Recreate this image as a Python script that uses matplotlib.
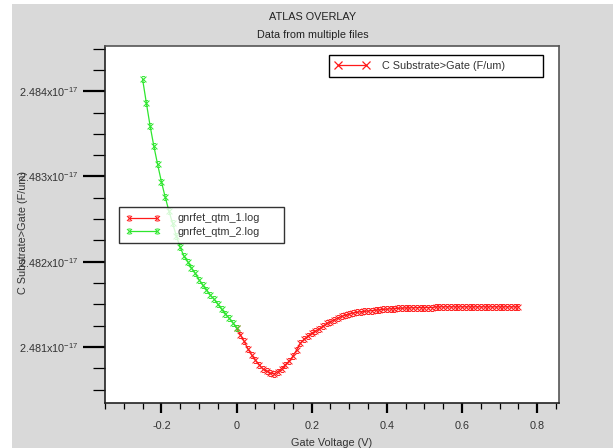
import matplotlib
matplotlib.use('Agg')
import matplotlib.pyplot as plt
from matplotlib.path import Path
from matplotlib.lines import Line2D
from matplotlib.patches import Rectangle
from matplotlib.ticker import MultipleLocator, FuncFormatter

plt.rcParams['font.family'] = ['Liberation Sans', 'DejaVu Sans']
plt.rcParams['mathtext.fontset'] = 'custom'
plt.rcParams['mathtext.rm'] = 'Liberation Sans'

# ---- data (capacitance in units of 1e-17 F/um) ----
v_qtm2 = [-0.25, -0.24, -0.23, -0.22, -0.21, -0.20, -0.19, -0.18, -0.17, -0.16,
          -0.15, -0.14, -0.13, -0.12, -0.11, -0.10, -0.09, -0.08, -0.07, -0.06,
          -0.05, -0.04, -0.03, -0.02, -0.01, 0.00]
c_qtm2 = [2.484141, 2.483863, 2.483593, 2.483355, 2.483141, 2.482941, 2.482761,
          2.482597, 2.482449, 2.482300, 2.482171, 2.482066, 2.482001, 2.481927,
          2.481864, 2.481790, 2.481726, 2.481673, 2.481609, 2.481562, 2.481503,
          2.481444, 2.481392, 2.481339, 2.481286, 2.481222]

v_qtm1 = [0.00, 0.01, 0.02, 0.03, 0.04, 0.05, 0.06, 0.07, 0.08, 0.09,
          0.10, 0.11, 0.12, 0.13, 0.14, 0.15, 0.16, 0.17, 0.18, 0.19,
          0.20, 0.21, 0.22, 0.23, 0.24, 0.25, 0.26, 0.27, 0.28, 0.29,
          0.30, 0.31, 0.32, 0.33, 0.34, 0.35, 0.36, 0.37, 0.38, 0.39,
          0.40, 0.41, 0.42, 0.43, 0.44, 0.45, 0.46, 0.47, 0.48, 0.49,
          0.50, 0.51, 0.52, 0.53, 0.54, 0.55, 0.56, 0.57, 0.58, 0.59,
          0.60, 0.61, 0.62, 0.63, 0.64, 0.65, 0.66, 0.67, 0.68, 0.69,
          0.70, 0.71, 0.72, 0.73, 0.74, 0.75]
c_qtm1 = [2.481222, 2.481145, 2.481069, 2.480981, 2.480909, 2.480847, 2.480794,
          2.480743, 2.480718, 2.480696, 2.480685, 2.480712, 2.480747, 2.480793,
          2.480835, 2.480893, 2.480967, 2.481046, 2.481093, 2.481128, 2.481163,
          2.481186, 2.481213, 2.481245, 2.481277, 2.481298, 2.481319, 2.481342,
          2.481359, 2.481374, 2.481388, 2.481399, 2.481407, 2.481413, 2.481418,
          2.481422, 2.481427, 2.481432, 2.481436, 2.481441, 2.481444, 2.481448,
          2.481451, 2.481454, 2.481456, 2.481458, 2.481459, 2.481460, 2.481461,
          2.481462, 2.481462, 2.481463, 2.481463, 2.481470, 2.481471, 2.481471,
          2.481471, 2.481471, 2.481471, 2.481471, 2.481471, 2.481471, 2.481471,
          2.481471, 2.481471, 2.481471, 2.481471, 2.481471, 2.481471, 2.481471,
          2.481471, 2.481471, 2.481471, 2.481471, 2.481471, 2.481471]

series_labels = ['gnrfet_qtm_1.log', 'gnrfet_qtm_2.log']
quantity_label = 'C Substrate>Gate (F/um)'
title = 'ATLAS OVERLAY'
subtitle = 'Data from multiple files'
xlabel = 'Gate Voltage (V)'

RED = '#ff1a1a'
GREEN = '#2ee62e'
TXT = '#333333'
FS = 7.8

# x marker with short bars at top and bottom
verts = [(-1, -1), (1, 1), (-1, 1), (1, -1), (-0.5, 1), (0.5, 1), (-0.5, -1), (0.5, -1)]
codes = [Path.MOVETO, Path.LINETO] * 4
hg = Path(verts, codes)

W, H = 616, 448
AX_L, AX_R, AX_T, AX_B = 105, 559, 46, 403.3
AW, AH = AX_R - AX_L, AX_B - AX_T

fig = plt.figure(figsize=(W / 100, H / 100), dpi=100, facecolor='white')
fig.patches.append(Rectangle((12 / W, 0), (613 - 12) / W, 1 - 4.5 / H,
                             transform=fig.transFigure, facecolor='#d9d9d9',
                             edgecolor='none', zorder=-10))

ax = fig.add_axes([AX_L / W, 1 - AX_B / H, AW / W, AH / H])
ax.set_facecolor('white')

ax.plot(v_qtm1, c_qtm1, color=RED, lw=0.9, marker=hg, ms=4.2, mew=0.75, zorder=3)
ax.plot(v_qtm2, c_qtm2, color=GREEN, lw=0.9, marker=hg, ms=4.2, mew=0.75, zorder=3)

ax.set_xlim(-0.35, 0.858)
ax.set_ylim(2.48034, 2.48453)

ax.xaxis.set_major_locator(MultipleLocator(0.2))
ax.xaxis.set_minor_locator(MultipleLocator(0.05))
ax.yaxis.set_major_locator(MultipleLocator(0.001))
ax.yaxis.set_minor_locator(MultipleLocator(0.00025))


def xfmt(v, pos):
    if abs(v) < 1e-9:
        return '0'
    return ('%.1f' % v)


def yfmt(v, pos):
    return '%.3fx10$^{\\mathregular{-17}}$' % v


ax.xaxis.set_major_formatter(FuncFormatter(xfmt))
ax.yaxis.set_major_formatter(FuncFormatter(yfmt))

ax.tick_params(axis='x', which='major', direction='out', length=7, width=1.6,
               labelsize=FS, labelcolor=TXT, pad=6)
ax.tick_params(axis='x', which='minor', direction='out', length=4, width=0.9)
ax.tick_params(axis='y', which='major', direction='out', length=16, width=1.6,
               labelsize=FS, labelcolor=TXT, pad=3)
ax.tick_params(axis='y', which='minor', direction='out', length=9, width=0.9)

for s in ['left', 'bottom']:
    ax.spines[s].set_color('#222222')
    ax.spines[s].set_linewidth(1.2)
for s in ['top', 'right']:
    ax.spines[s].set_color('#555555')
    ax.spines[s].set_linewidth(1.2)

# titles and labels
cx = (12 + 613) / 2 / W
fig.text(cx, 1 - 17 / H, title, ha='center', va='center', fontsize=FS, color='#222222')
fig.text(cx, 1 - 35 / H, subtitle, ha='center', va='center', fontsize=FS, color='#222222')
fig.text((AX_L + AX_R) / 2 / W, 1 - 443 / H, xlabel, ha='center', va='center',
         fontsize=FS, color=TXT)
fig.text(23 / W, 1 - 232 / H, quantity_label, ha='center', va='center', rotation=90,
         fontsize=FS, color=TXT)


def box(x0, y0, x1, y1):
    """pixel box -> axes-fraction bbox (x, y_bottom, w, h)"""
    return ((x0 - AX_L) / AW, 1 - (y1 - AX_T) / AH, (x1 - x0) / AW, (y1 - y0) / AH)


# legend 1: quantity
h_q = Line2D([], [], color=RED, lw=0.9, marker='x', ms=5.5, mew=0.9)
leg1 = ax.legend([h_q], [quantity_label], loc='center left',
                 bbox_to_anchor=box(329, 53, 543, 79),
                 mode='expand', borderaxespad=0, numpoints=2, fontsize=FS,
                 handlelength=3.2, handletextpad=1.1, borderpad=0.55,
                 frameon=True, fancybox=False, framealpha=1, edgecolor='black',
                 labelcolor=TXT)
leg1.get_frame().set_linewidth(1.0)
ax.add_artist(leg1)

# legend 2: files
h1 = Line2D([], [], color=RED, lw=0.9, marker=hg, ms=3.6, mew=0.75)
h2 = Line2D([], [], color=GREEN, lw=0.9, marker=hg, ms=3.6, mew=0.75)
leg2 = ax.legend([h1, h2], series_labels, loc='center left',
                 bbox_to_anchor=box(119, 205, 284, 245),
                 mode='expand', borderaxespad=0, numpoints=2, fontsize=FS,
                 handlelength=3.2, handletextpad=1.6, borderpad=0.6,
                 labelspacing=0.3, frameon=True, fancybox=False,
                 edgecolor='black', labelcolor=TXT)
leg2.get_frame().set_facecolor((1, 1, 1, 0.55))
leg2.get_frame().set_linewidth(1.0)
leg2.set_zorder(5)

fig.savefig('out.png', dpi=100, facecolor='white')
